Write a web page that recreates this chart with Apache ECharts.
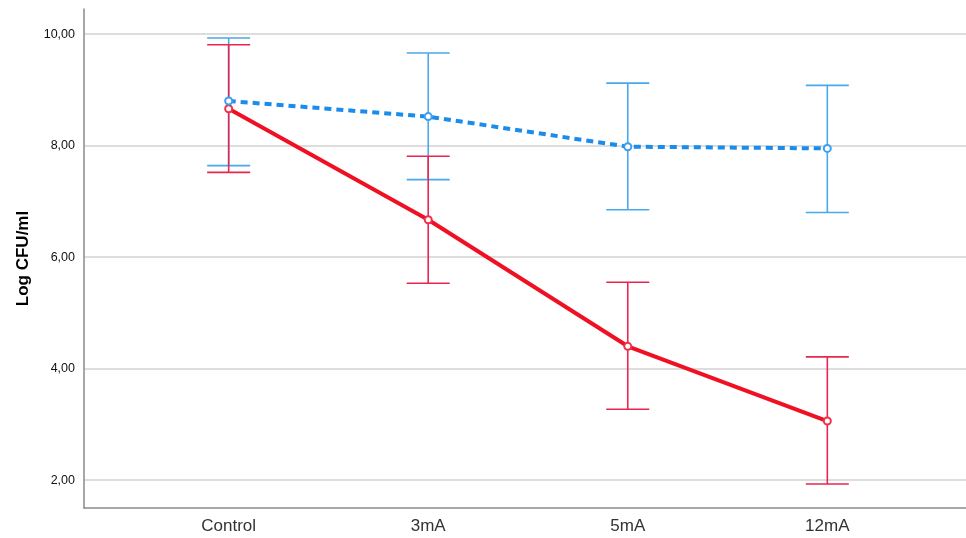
<!DOCTYPE html>
<html>
<head>
<meta charset="utf-8">
<script src="https://cdn.jsdelivr.net/npm/echarts@6/dist/echarts.min.js"></script>
<style>
html,body{margin:0;padding:0;background:#fff;}
#chart{width:966px;height:538px;}
</style>
</head>
<body>
<div id="chart"></div>
<script>
const categories = ['Control', '3mA', '5mA', '12mA'];
const yTicks = [2, 4, 6, 8, 10];
// Blue (dashed) group
const blueMean = [8.80, 8.52, 7.98, 7.95];
const blueLow  = [7.64, 7.39, 6.85, 6.80];
const blueHigh = [9.93, 9.66, 9.12, 9.08];
// Red (solid) group
const redMean = [8.66, 6.67, 4.40, 3.06];
const redLow  = [7.52, 5.53, 3.27, 1.93];
const redHigh = [9.81, 7.81, 5.55, 4.21];

const idx = categories.map((c, i) => i);

function errSeries(low, high, color, z) {
  return {
    type: 'custom',
    z: z,
    silent: true,
    data: idx.map(i => [i, low[i], high[i]]),
    encode: { x: 0, y: [1, 2] },
    renderItem: function (params, api) {
      const x = api.value(0);
      const lo = api.coord([x, api.value(1)]);
      const hi = api.coord([x, api.value(2)]);
      const hw = 21.5;
      const style = { stroke: color, lineWidth: 1.6 };
      return {
        type: 'group',
        children: [
          { type: 'line', shape: { x1: lo[0], y1: lo[1], x2: hi[0], y2: hi[1] }, style: style },
          { type: 'line', shape: { x1: lo[0] - hw, y1: lo[1], x2: lo[0] + hw, y2: lo[1] }, style: style },
          { type: 'line', shape: { x1: hi[0] - hw, y1: hi[1], x2: hi[0] + hw, y2: hi[1] }, style: style }
        ]
      };
    }
  };
}

const chart = echarts.init(document.getElementById('chart'));
chart.setOption({
  animation: false,
  backgroundColor: '#fff',
  grid: { left: 84, right: 0, top: 9, bottom: 30, containLabel: false },
  xAxis: {
    type: 'value',
    min: -0.725,
    max: 3.695,
    axisLine: { show: true, onZero: false, lineStyle: { color: '#8a8a8a', width: 1.5 } },
    axisTick: { show: false },
    splitLine: { show: false },
    axisLabel: {
      customValues: idx,
      formatter: v => categories[Math.round(v)],
      fontFamily: 'Liberation Sans',
      fontSize: 17,
      color: '#333',
      margin: 10
    }
  },
  yAxis: {
    type: 'value',
    min: 1.5,
    max: 10.45,
    name: 'Log CFU/ml',
    nameLocation: 'middle',
    nameGap: 52,
    nameRotate: 90,
    nameTextStyle: { fontFamily: 'Liberation Sans', fontSize: 17, fontWeight: 'bold', color: '#000' },
    axisLine: { show: true, onZero: false, lineStyle: { color: '#8a8a8a', width: 1.5 } },
    axisTick: { show: false, customValues: yTicks },
    splitLine: { show: true, lineStyle: { color: '#d2d2d2', width: 1.5 } },
    axisLabel: {
      customValues: yTicks,
      formatter: v => v.toFixed(2).replace('.', ','),
      fontFamily: 'Liberation Sans',
      fontSize: 12.5,
      color: '#111',
      margin: 9
    }
  },
  series: [
    errSeries(blueLow, blueHigh, '#4aa9ea', 2),
    errSeries(redLow, redHigh, '#e8264f', 3),
    {
      type: 'line',
      z: 4,
      data: idx.map(i => [i, redMean[i]]),
      symbol: 'emptyCircle',
      symbolSize: 7,
      lineStyle: { color: '#f01023', width: 4 },
      itemStyle: { color: '#f0304a', borderWidth: 1.2 }
    },
    {
      type: 'line',
      z: 5,
      data: idx.map(i => [i, blueMean[i]]),
      symbol: 'emptyCircle',
      symbolSize: 7,
      lineStyle: { color: '#1a8cec', width: 4, type: [7, 5] },
      itemStyle: { color: '#3d9fee', borderWidth: 1.2 }
    }
  ]
});
</script>
</body>
</html>
